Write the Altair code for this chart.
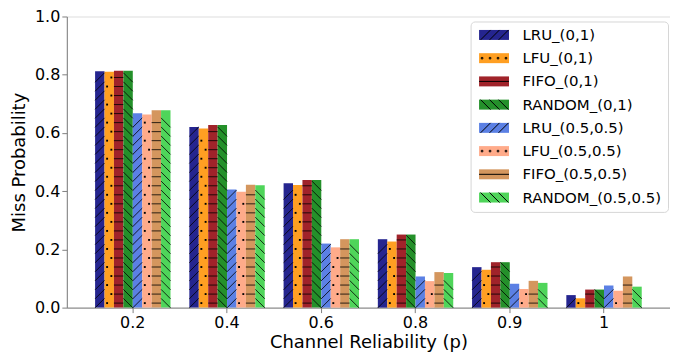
import altair as alt
import pandas as pd

p_labels = ["0.2", "0.4", "0.6", "0.8", "0.9", "1"]
series = ["LRU_(0,1)", "LFU_(0,1)", "FIFO_(0,1)", "RANDOM_(0,1)",
          "LRU_(0.5,0.5)", "LFU_(0.5,0.5)", "FIFO_(0.5,0.5)", "RANDOM_(0.5,0.5)"]
colors = ["#25258f", "#ff9f22", "#a0232a", "#24902a",
          "#5b80e4", "#ffab8a", "#d4965e", "#4fd55a"]
hatch_of = ["/", ".", "-", "\\", "/", ".", "-", "\\"]

lru_01 = [0.812, 0.620, 0.427, 0.235, 0.139, 0.043]
lfu_01 = [0.810, 0.615, 0.421, 0.227, 0.130, 0.032]
fifo_01 = [0.814, 0.627, 0.438, 0.251, 0.156, 0.062]
random_01 = [0.814, 0.627, 0.438, 0.251, 0.156, 0.062]
lru_55 = [0.668, 0.406, 0.220, 0.107, 0.082, 0.076]
lfu_55 = [0.663, 0.398, 0.207, 0.091, 0.064, 0.058]
fifo_55 = [0.678, 0.422, 0.235, 0.122, 0.092, 0.107]
random_55 = [0.678, 0.420, 0.235, 0.119, 0.085, 0.072]
values = [lru_01, lfu_01, fifo_01, random_01, lru_55, lfu_55, fifo_55, random_55]

rows = []
for s, vals in zip(series, values):
    for p, v in zip(p_labels, vals):
        rows.append({"p": p, "series": s, "value": v})
bars = pd.DataFrame(rows)

# hatch cells derived from the bar values
STEP = 0.031
hl, hd = [], []
for s, h, vals in zip(series, hatch_of, values):
    for p, v in zip(p_labels, vals):
        k = 0
        while (k + 1) * STEP <= v + 1e-9:
            y = (k + 0.5) * STEP
            if h == ".":
                hd.append({"p": p, "series": s, "hy": y, "h": "dotL" if k % 2 == 0 else "dotR"})
            else:
                hl.append({"p": p, "series": s, "hy": y, "h": h})
            k += 1
hatch_lines = pd.DataFrame(hl)
hatch_dots = pd.DataFrame(hd)

FONT = "DejaVu Sans"
AX = "#808080"

line_paths = {"/": "M -1 1 L 1 -1", "-": "M -1 0 L 1 0", "\\": "M -1 -1 L 1 1"}
dot_paths = {"dotL": "M -0.65 -0.2 H -0.25 V 0.2 H -0.65 Z",
             "dotR": "M 0.25 -0.2 H 0.65 V 0.2 H 0.25 Z"}

swatch = "M -1 -1 H 5 V 1 H -1 Z"
leg_hatch = {
    "/": "M -0.7 1 L 1.3 -1 M 1.1 1 L 3.1 -1 M 2.9 1 L 4.9 -1",
    "\\": "M -0.7 -1 L 1.3 1 M 1.1 -1 L 3.1 1 M 2.9 -1 L 4.9 1",
    "-": "M -1 0 H 5",
    ".": ("M -0.55 -0.15 h 0.3 v 0.3 h -0.3 Z M 1.05 -0.15 h 0.3 v 0.3 h -0.3 Z "
          "M 2.65 -0.15 h 0.3 v 0.3 h -0.3 Z M 4.25 -0.15 h 0.3 v 0.3 h -0.3 Z"),
}
legend_paths = [leg_hatch[h] for h in hatch_of]

xenc = alt.X("p:N", sort=p_labels,
             scale=alt.Scale(domain=p_labels, paddingInner=0.2, paddingOuter=0.3),
             axis=alt.Axis(title="Channel Reliability (p)", labelAngle=0, labelFontSize=16,
                           titleFontSize=18, tickSize=5, labelPadding=2, titlePadding=3,
                           labelFont=FONT, titleFont=FONT, titleFontWeight="normal",
                           domainColor=AX, tickColor=AX, labelColor="black", titleColor="black"))
xoff = alt.XOffset("series:N", sort=series, scale=alt.Scale(domain=series, paddingInner=0, paddingOuter=0))
yscale = alt.Scale(domain=[0, 1], nice=False)

common_legend = dict(title=None, orient="none", legendX=405, legendY=5,
                     symbolSize=100, symbolStrokeWidth=1, labelFontSize=15, labelFont=FONT,
                     labelOffset=31, rowPadding=7.3, padding=6, cornerRadius=4,
                     labelLimit=300, symbolOpacity=1)

bar_layer = alt.Chart(bars).mark_bar(stroke=None).encode(
    x=xenc,
    xOffset=xoff,
    y=alt.Y("value:Q", scale=yscale,
            axis=alt.Axis(title="Miss Probability", values=[0, 0.2, 0.4, 0.6, 0.8, 1.0],
                          format=".1f", grid=False, labelFontSize=16, titleFontSize=18,
                          tickSize=5, labelPadding=2, titlePadding=6, labelFont=FONT,
                          titleFont=FONT, titleFontWeight="normal", domainColor=AX,
                          tickColor=AX, labelColor="black", titleColor="black")),
    color=alt.Color("series:N", sort=series, scale=alt.Scale(domain=series, range=colors),
                    legend=alt.Legend(symbolType=swatch, symbolStrokeColor="transparent",
                                      fillColor="rgba(255,255,255,0.8)", strokeColor="#d6d6d6",
                                      **common_legend)),
)

line_layer = alt.Chart(hatch_lines).mark_point(filled=False, color="black", opacity=1,
                                               strokeWidth=1, strokeOpacity=0.8, size=90).encode(
    x=alt.X("p:N", sort=p_labels),
    xOffset=alt.XOffset("series:N", sort=series),
    y=alt.Y("hy:Q", scale=yscale),
    shape=alt.Shape("h:N", scale=alt.Scale(domain=list(line_paths.keys()),
                                           range=list(line_paths.values())), legend=None),
)

dot_layer = alt.Chart(hatch_dots).mark_point(filled=True, color="black", opacity=1,
                                             strokeWidth=0, size=90).encode(
    x=alt.X("p:N", sort=p_labels),
    xOffset=alt.XOffset("series:N", sort=series),
    y=alt.Y("hy:Q", scale=yscale),
    shape=alt.Shape("h:N", scale=alt.Scale(domain=list(dot_paths.keys()),
                                           range=list(dot_paths.values())), legend=None),
)

legend_layer = alt.Chart(bars).transform_filter("false").mark_point(
    filled=False, color="black", opacity=1, strokeWidth=1).encode(
    shape=alt.Shape("series:N", sort=series,
                    scale=alt.Scale(domain=series, range=legend_paths),
                    legend=alt.Legend(symbolFillColor="transparent", symbolStrokeColor="black",
                                      labelColor="transparent", fillColor="transparent",
                                      strokeColor="transparent", **common_legend)),
)

chart = alt.layer(bar_layer, line_layer, dot_layer, legend_layer).resolve_scale(
    shape="independent"
).properties(
    width=605, height=292,
    autosize=alt.AutoSizeParams(type="none"),
    padding={"left": 59, "top": 8, "right": 0, "bottom": 46},
).configure_view(stroke=AX, strokeWidth=1).configure(background="white")

chart.save("out.html", embed_options={"renderer": "svg", "actions": False})
